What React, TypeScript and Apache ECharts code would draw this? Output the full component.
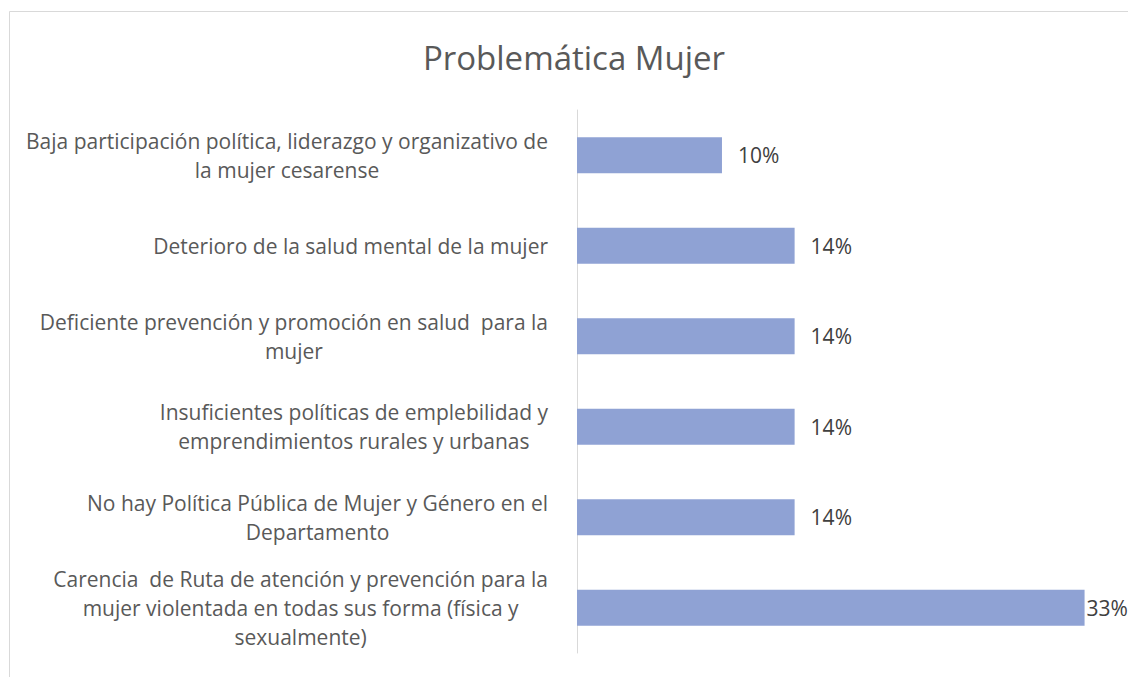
import React, { useEffect, useRef } from "react";
import * as echarts from "echarts";

const TITLE = "Problemática Mujer";

const categories: string[] = [
  "Baja participación política, liderazgo y organizativo de\nla mujer cesarense",
  "Deterioro de la salud mental de la mujer",
  "Deficiente prevención y promoción en salud  para la\nmujer",
  "Insuficientes políticas de emplebilidad y\nemprendimientos rurales y urbanas",
  "No hay Política Pública de Mujer y Género en el\nDepartamento",
  "Carencia  de Ruta de atención y prevención para la\nmujer violentada en todas sus forma (física y\nsexualmente)",
];

const values: number[] = [9.52, 14.29, 14.29, 14.29, 14.29, 33.33];

const FONT = "'Open Sans', 'Liberation Sans', sans-serif";

export default function App() {
  const ref = useRef<HTMLDivElement>(null);

  useEffect(() => {
    if (!ref.current) return;
    const chart = echarts.init(ref.current, undefined, { renderer: "svg" });
    const lastIdx = values.length - 1;
    chart.setOption({
      animation: false,
      backgroundColor: "#ffffff",
      graphic: [
        {
          type: "rect",
          shape: { x: 9.5, y: 11.5, width: 1140, height: 700 },
          style: { fill: "none", stroke: "#d9d9d9", lineWidth: 1 },
          silent: true,
        },
        {
          type: "text",
          x: 574,
          y: 57,
          style: {
            text: TITLE,
            fontFamily: FONT,
            fontSize: 33,
            fill: "#595959",
            textAlign: "center",
            textVerticalAlign: "middle",
          },
        },
      ],
      grid: { left: 577, top: 110, right: 18, bottom: 24, containLabel: false },
      xAxis: {
        type: "value",
        min: 0,
        max: 35,
        show: false,
      },
      yAxis: {
        type: "category",
        inverse: true,
        data: categories,
        axisLine: { show: true, lineStyle: { color: "#d9d9d9", width: 1 } },
        axisTick: { show: false },
        splitLine: { show: false },
        axisLabel: {
          margin: 29,
          align: "right",
          formatter: (v: string) =>
            v
              .split("\n")
              .map((l) => `{c|${l}}`)
              .join("\n"),
          rich: {
            c: {
              align: "center",
              fontFamily: FONT,
              fontSize: 21,
              lineHeight: 29,
              color: "#595959",
            },
          },
        },
      },
      series: [
        {
          type: "bar",
          barWidth: 36,
          itemStyle: { color: "#8fa2d4" },
          data: values.map((v, i) =>
            i === lastIdx ? { value: v, label: { distance: 2 } } : v
          ),
          label: {
            show: true,
            position: "right",
            distance: 16,
            fontFamily: FONT,
            fontSize: 21,
            color: "#404040",
            formatter: (p: any) => `${Math.round(p.value)}%`,
          },
        },
      ],
    });
    return () => chart.dispose();
  }, []);

  return (
    <div
      ref={ref}
      style={{ position: "absolute", left: 0, top: 0, width: 1128, height: 677 }}
    />
  );
}
